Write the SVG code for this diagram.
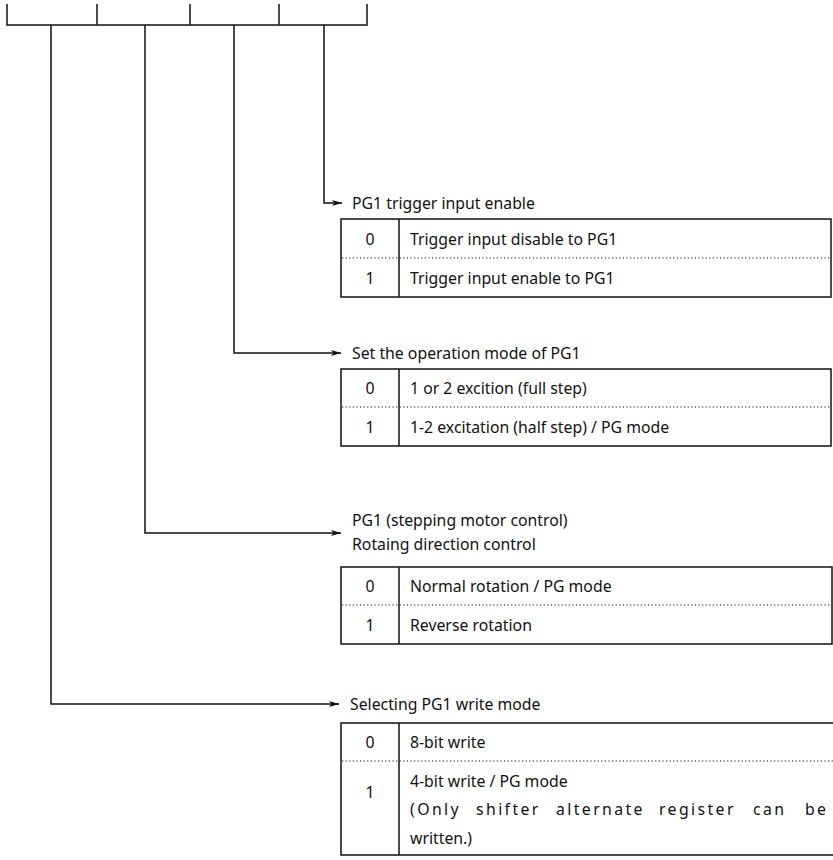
<svg xmlns="http://www.w3.org/2000/svg" width="833" height="860" viewBox="0 0 833 860">
<style>
  .ln{fill:none;stroke:#111;stroke-width:1.5}
  .dot{fill:none;stroke:#111;stroke-width:1.2;stroke-dasharray:1.2 2.4}
  text{font-family:"Noto Sans","Liberation Sans",Arial,sans-serif;font-size:15.8px;fill:#111}
  .n{text-anchor:middle}
</style>
<defs>
  <marker id="ah" viewBox="0 0 10 6" refX="10" refY="3" markerWidth="10" markerHeight="6" markerUnits="userSpaceOnUse" orient="auto">
    <path d="M0,0 L10,3 L0,6 L2.5,3 Z" fill="#111"/>
  </marker>
</defs>
<rect width="833" height="860" fill="#fff"/>
<g id="register">
  <path class="ln" d="M7,4 V25 H367 V4 M97,4 V25 M190,4 V25 M279,4 V25"/>
</g>
<g id="connectors">
  <path class="ln" d="M324,25 V203 H342" marker-end="url(#ah)"/>
  <path class="ln" d="M234,25 V353 H341" marker-end="url(#ah)"/>
  <path class="ln" d="M145,25 V533 H341" marker-end="url(#ah)"/>
  <path class="ln" d="M51,25 V704 H339" marker-end="url(#ah)"/>
</g>
<g id="node-trigger">
  <text x="352" y="209">PG1 trigger input enable</text>
  <rect class="ln" x="341" y="219" width="490" height="78"/>
  <line class="ln" x1="399" y1="219" x2="399" y2="297"/>
  <line class="dot" x1="342" y1="258" x2="831" y2="258"/>
  <text class="n" x="370" y="245">0</text>
  <text x="410" y="245">Trigger input disable to PG1</text>
  <text class="n" x="370" y="284">1</text>
  <text x="410" y="284">Trigger input enable to PG1</text>
</g>
<g id="node-mode">
  <text x="352" y="359">Set the operation mode of PG1</text>
  <rect class="ln" x="341" y="369" width="490" height="77"/>
  <line class="ln" x1="399" y1="369" x2="399" y2="446"/>
  <line class="dot" x1="342" y1="407" x2="831" y2="407"/>
  <text class="n" x="370" y="394">0</text>
  <text x="410" y="394">1 or 2 excition (full step)</text>
  <text class="n" x="370" y="433">1</text>
  <text x="410" y="433">1-2 excitation (half step) / PG mode</text>
</g>
<g id="node-direction">
  <text x="352" y="526">PG1 (stepping motor control)</text>
  <text x="352" y="550">Rotaing direction control</text>
  <rect class="ln" x="341" y="567" width="491" height="77"/>
  <line class="ln" x1="399" y1="567" x2="399" y2="644"/>
  <line class="dot" x1="342" y1="605" x2="831" y2="605"/>
  <text class="n" x="370" y="592">0</text>
  <text x="410" y="592">Normal rotation / PG mode</text>
  <text class="n" x="370" y="631">1</text>
  <text x="410" y="631">Reverse rotation</text>
</g>
<g id="node-write">
  <text x="350" y="710">Selecting PG1 write mode</text>
  <rect class="ln" x="341" y="723" width="494" height="132"/>
  <line class="ln" x1="399" y1="723" x2="399" y2="855"/>
  <line class="dot" x1="342" y1="761" x2="833" y2="761"/>
  <text class="n" x="370" y="748">0</text>
  <text x="410" y="748">8-bit write</text>
  <text class="n" x="370" y="798">1</text>
  <text x="410" y="787">4-bit write / PG mode</text>
  <text y="815" letter-spacing="2.4"><tspan x="410">(Only</tspan><tspan x="476">shifter</tspan><tspan x="556">alternate</tspan><tspan x="659">register</tspan><tspan x="753">can</tspan><tspan x="805">be</tspan></text>
  <text x="410" y="844">written.)</text>
</g>
</svg>
